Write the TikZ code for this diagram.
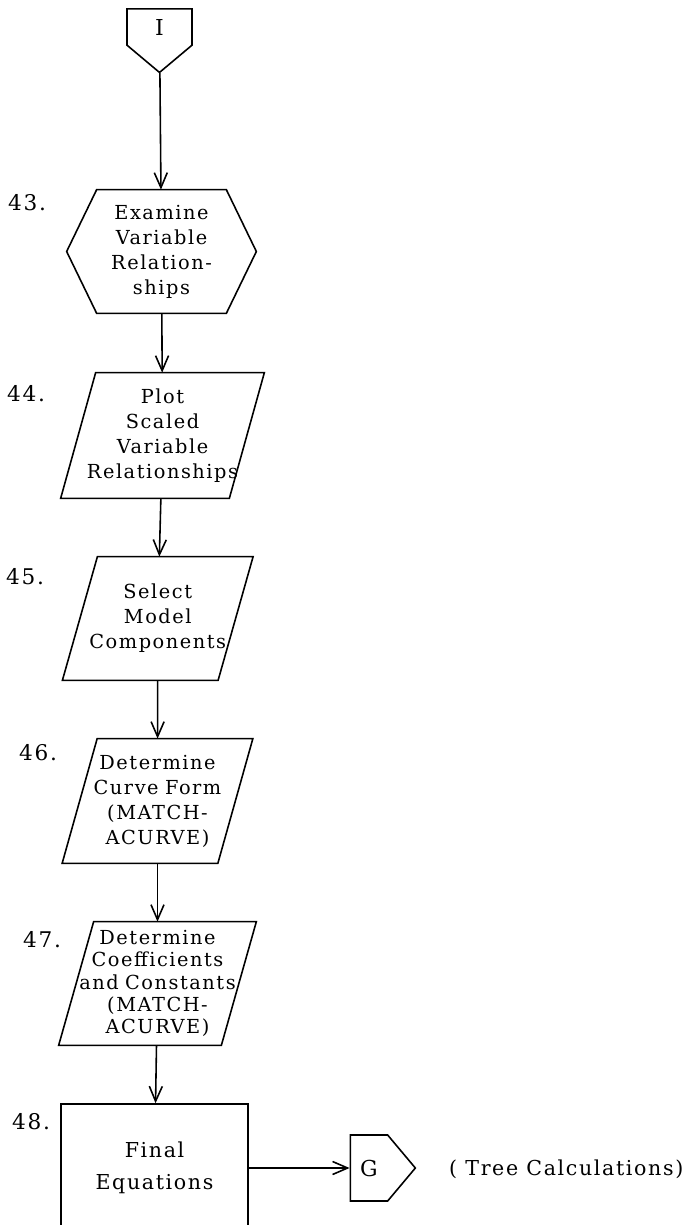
\documentclass[tikz,border=0pt]{standalone}
\usepackage{fontspec}
\setmainfont{DejaVu Serif}[LetterSpace=8]
\newfontfamily\boxfont{DejaVu Serif}[LetterSpace=8, WordSpace=1.5]
\usetikzlibrary{arrows.meta,shapes.symbols}
\newcommand{\slantframe}[2]{%
  \draw[frame] ([xshift=#2]#1.north west) -- ([xshift=#2]#1.north east)
    -- ([xshift=-#2]#1.south east) -- ([xshift=-#2]#1.south west) -- cycle;
}
\newcommand{\hexframe}[2]{%
  \draw[frame] (#1.north west) -- (#1.north east) -- ([xshift=#2]#1.east)
    -- (#1.south east) -- (#1.south west) -- ([xshift=-#2]#1.west) -- cycle;
}

\begin{document}
\begin{tikzpicture}[>={Straight Barb[length=3mm,width=2.6mm]},
  frame/.style={line width=0.9pt, line join=miter},
  box/.style={inner sep=0pt, align=center, text width=#1, minimum height=2.46cm,
    font=\boxfont\fontsize{11}{14.2}\selectfont},
  tag/.style={font=\fontsize{12.3}{15}\selectfont},
  offpage/.style={signal, draw, line width=0.9pt, signal pointer angle=100,
    inner sep=0pt, font=\fontsize{12.5}{15}\selectfont}]

  \useasboundingbox (0,0) rectangle (13.86,-24.5);
  \clip (0,0) rectangle (13.86,-24.5);

  % Connector coming in from sheet I
  \node[offpage, signal to=south, minimum width=1.3cm, minimum height=0.8cm] (conI) at (3.19,-0.54) {I};

  % Steps 43 to 47
  \node[box=2.58cm] (exam) at (3.23,-5.03) {Examine\\Variable\\Relation-\\ships};
  \node[box=3.36cm, minimum height=2.5cm] (plot) at (3.25,-8.71) {Plot\\Scaled\\Variable\\Relationships};
  \node[box=3.1cm] (select) at (3.155,-12.37) {Select\\Model\\Components};
  \node[box=3.1cm, minimum height=2.48cm] (curve) at (3.15,-16.02) {Determine\\Curve Form\\(MATCH-\\ACURVE)};
  \node[box=3.24cm, font=\boxfont\fontsize{11}{12.6}\selectfont] (coef) at (3.15,-19.67)
    {Determine\\Coefficients\\and Constants\\(MATCH-\\ACURVE)};

  % Step 48 and the way out to sheet G
  \node[draw, frame, minimum width=3.74cm, minimum height=2.56cm, inner sep=0pt, align=center,
    font=\fontsize{11.7}{18}\selectfont] (final) at (3.09,-23.36) {Final\\Equations};
  \node[offpage, signal to=east, minimum width=1.3cm, minimum height=1.32cm] (conG) at (7.38,-23.36) {G};
  \node[anchor=west, font=\fontsize{11.7}{15}\selectfont] (treenote) at (8.86,-23.38) {( Tree Calculations)};

  % Outlines of the step boxes
  \hexframe{exam}{0.6cm}
  \foreach \b in {plot,select,curve,coef}
    {\slantframe{\b}{0.35cm}}

  % Step numbers
  \foreach \n/\x/\y in {43/0.54/-4.06, 44/0.52/-7.88, 45/0.5/-11.54,
                        46/0.76/-15.06, 47/0.84/-18.8, 48/0.62/-22.44}
    \node[tag] (tag\n) at (\x,\y) {\n.};

  % Flow lines
  \foreach \a/\b in {conI/exam, exam/plot, plot/select, select/curve,
                     curve/coef, coef/final, final/conG}
    \draw[->, line width=0.9pt] (\a) -- (\b);

\end{tikzpicture}
\end{document}
